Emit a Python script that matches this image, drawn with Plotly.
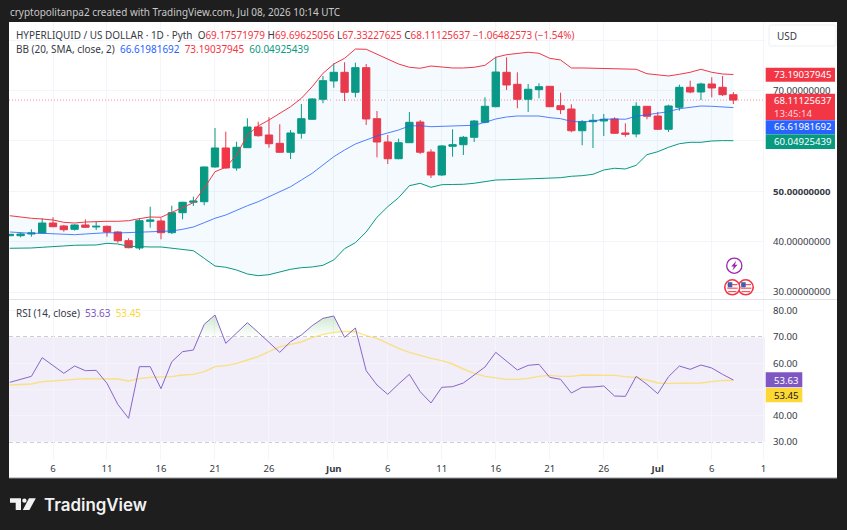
import numpy as np
import plotly.graph_objects as go

W, H = 847, 530

# Calendar: day number counted from 1 May, so 32 = 1 Jun and 62 = 1 Jul
days = list(range(2, 70))

opens = [41.18,41.18,41.52,41.72,43.70,43.11,42.45,43.31,42.91,43.05,41.92,40.19,38.74,44.04,44.10,41.78,45.75,47.82,47.93,54.83,58.60,54.63,58.66,62.77,61.18,59.53,57.75,61.52,64.30,68.27,
         71.91,73.63,69.66,74.55,64.42,59.79,56.47,59.65,63.76,57.80,53.24,58.94,59.25,60.72,63.70,66.80,73.63,71.25,68.27,70.18,70.85,67.00,66.34,62.03,63.82,63.96,64.36,61.58,61.38,66.88,
         64.95,62.31,66.68,70.65,69.72,71.31,70.65,69.17571979]
highs = [41.50,41.78,42.45,44.64,44.84,43.31,43.45,44.44,43.96,43.17,42.06,40.67,44.64,46.94,44.64,47.14,47.90,48.93,54.90,62.57,61.84,59.85,64.50,63.82,64.70,63.31,62.17,67.34,68.47,72.90,
         75.42,75.62,75.54,75.28,65.95,61.18,60.45,65.75,64.16,58.34,59.20,62.31,60.98,64.16,68.67,76.73,76.61,73.63,71.31,71.45,70.90,69.58,67.28,64.16,65.35,65.35,64.70,63.50,67.68,66.90,
         65.75,67.20,71.17,71.97,71.57,72.64,72.90,69.69625056]
lows = [41.10,40.86,40.98,41.66,42.85,41.98,42.18,42.71,42.31,40.98,39.79,38.68,38.34,42.77,40.47,41.52,44.44,47.08,47.22,54.70,54.49,54.09,58.60,60.84,58.66,57.61,56.41,60.45,64.16,67.48,
        70.57,67.93,68.67,63.17,56.75,55.42,56.36,59.60,57.41,52.64,53.04,56.87,57.21,59.79,63.50,66.68,70.12,66.48,65.75,68.47,66.70,65.35,61.72,59.14,58.60,60.98,61.44,60.84,60.72,64.30,
        62.17,61.78,66.01,69.46,68.13,68.67,68.93,67.33227625]
closes = [41.46,41.52,41.72,43.70,42.97,42.37,43.31,42.85,43.05,41.92,40.19,38.80,44.16,44.30,41.78,45.75,47.82,48.07,54.83,58.60,54.63,58.74,62.77,61.04,59.45,57.75,61.58,64.42,68.33,71.97,
          73.63,69.66,74.55,64.36,59.79,56.47,59.65,63.70,57.75,53.24,59.00,59.25,60.72,63.96,66.88,73.69,71.11,68.27,70.26,70.77,66.80,66.21,62.03,63.82,64.10,64.30,61.52,61.32,66.88,64.90,
          62.31,66.94,70.65,69.72,71.31,70.52,69.18,68.11125637]

bb_upper = [45.15,44.84,44.64,44.50,44.30,43.84,43.70,43.90,44.04,44.04,44.04,44.16,44.56,44.90,44.84,45.83,46.74,47.74,50.60,53.89,54.77,57.21,61.18,62.97,64.16,65.49,66.80,68.47,70.77,73.43,
            75.28,76.41,78.26,78.20,77.27,76.27,75.28,74.63,74.43,74.88,74.63,74.49,74.49,74.63,75.02,76.61,77.13,77.41,77.61,77.41,76.41,76.08,74.49,74.49,74.43,74.35,74.29,74.23,74.23,73.35,
            73.10,72.90,73.24,73.63,74.23,73.63,73.30,73.19037945]
bb_basis = [41.92,41.72,41.66,41.66,41.58,41.46,41.38,41.52,41.66,41.78,41.72,41.78,41.92,41.92,41.98,42.12,42.45,42.91,43.76,44.64,45.29,46.29,47.14,47.93,48.93,49.86,50.91,52.24,53.57,55.22,
            56.87,58.20,59.39,60.19,60.98,61.58,62.17,62.97,63.03,62.83,62.91,62.97,62.97,63.11,63.70,64.36,64.76,64.95,64.95,64.95,64.62,64.42,63.90,63.76,63.96,64.30,64.36,64.30,64.90,65.21,
            65.55,65.81,66.40,66.68,66.94,66.88,66.68,66.61981692]
bb_lower = [38.68,38.68,38.74,38.88,38.94,39.14,39.28,39.28,39.34,39.67,39.53,39.08,38.94,38.94,38.94,38.68,38.40,38.20,36.69,35.16,34.91,34.37,33.58,33.24,33.44,34.03,34.51,34.83,34.97,35.30,
            36.36,38.60,39.79,41.92,44.84,46.94,48.73,51.11,51.59,50.79,51.31,51.35,51.39,51.59,51.99,52.24,52.30,52.38,52.38,52.44,52.64,52.70,52.98,53.10,53.38,54.23,54.57,54.43,55.16,57.27,
            57.86,58.74,59.45,59.73,59.73,59.99,60.06,60.04925439]

rsi = [52.73,53.87,55.02,62.13,59.08,56.16,58.95,57.17,57.30,52.35,44.35,39.02,58.70,58.70,50.32,60.60,64.41,65.05,74.83,78.38,67.59,71.65,75.46,71.78,67.97,64.16,68.22,70.76,74.32,77.11,
       78.00,69.87,73.43,57.17,51.71,48.16,52.10,55.78,49.17,44.86,50.83,51.08,52.48,55.52,58.57,64.16,60.86,57.43,59.21,59.59,54.63,53.87,48.67,50.83,50.95,51.33,47.52,47.40,55.02,51.97,
       48.41,54.89,58.95,57.68,59.33,58.19,55.78,53.63]
rsi_ma = [51.71,51.97,52.10,52.98,53.37,53.62,53.87,54.13,54.13,54.00,54.00,53.24,54.13,54.63,54.63,54.89,55.52,55.78,56.79,58.70,59.08,59.97,61.24,62.51,64.41,66.32,67.21,68.10,69.75,71.02,
          71.78,72.16,72.03,70.51,69.49,67.59,65.68,64.16,62.89,61.87,60.98,59.71,57.81,56.16,55.02,54.51,53.87,53.87,54.25,55.02,55.40,55.02,55.02,55.52,55.52,55.52,55.40,54.89,54.51,53.62,
          52.48,52.35,52.35,52.35,52.48,52.98,53.49,53.45]

price_ticks = [30, 40, 50, 60, 70, 80]
price_labels = ["30.00000000", "40.00000000", "<b>50.00000000</b>", "", "70.00000000", ""]
rsi_ticks = [30, 40, 50, 60, 70, 80]
rsi_labels = ["30.00", "40.00", "", "60.00", "70.00", "80.00"]
rsi_levels = [30, 50, 70]
time_ticks = [6, 11, 16, 21, 26, 32, 37, 42, 47, 52, 57, 62, 67, 71.8]
time_labels = ["6", "11", "16", "21", "26", "<b>Jun</b>", "6", "11", "16", "21", "26", "<b>Jul</b>", "6", "1"]

UP, DOWN, BLUE = "#089981", "#f23645", "#2962ff"
PURPLE, YELLOW = "#7e57c2", "#fdd835"
GRID, TEXT = "#f3f5fa", "#363a45"
FONT = "Noto Sans, sans-serif"
AXIS_SIZE = 9.6
TEXT_SIZE = 9.95


def fx(px):
    return px / W


def fy(px):
    return 1 - px / H


def box(x0, y0, x1, y1, fill, line=None, width=0, layer="above"):
    return dict(type="rect", xref="paper", yref="paper", x0=fx(x0), x1=fx(x1), y0=fy(y0), y1=fy(y1),
                fillcolor=fill, line=dict(color=line or fill, width=width), layer=layer)


def blob(cx, cy, r, fill, line, width):
    return dict(type="circle", xref="paper", yref="paper", x0=fx(cx - r), x1=fx(cx + r),
                y0=fy(cy - r), y1=fy(cy + r), fillcolor=fill, line=dict(color=line, width=width))


def poly(points, fill, line=None, width=0):
    d = "M" + " L".join(f"{fx(a):.5f},{fy(b):.5f}" for a, b in points) + " Z"
    return dict(type="path", xref="paper", yref="paper", path=d, fillcolor=fill,
                line=dict(color=line or fill, width=width))


def label(x, y, text, size=TEXT_SIZE, color=TEXT, anchor="left", family=FONT, weight=None):
    font = dict(size=size, color=color, family=family)
    if weight:
        font["weight"] = weight
    return dict(xref="paper", yref="paper", x=fx(x), y=fy(y), text=text, showarrow=False,
                xanchor=anchor, yanchor="middle", font=font,
                borderpad=0, bgcolor="rgba(0,0,0,0)")


fig = go.Figure()

# Bollinger band fill and lines
fig.add_trace(go.Scatter(x=days, y=bb_lower, mode="lines", line=dict(color=UP, width=1), opacity=0.7,
                         xaxis="x", yaxis="y", showlegend=False))
fig.add_trace(go.Scatter(x=days, y=bb_upper, mode="lines", line=dict(color=DOWN, width=1),
                         fill="tonexty", fillcolor="rgba(33,150,243,0.05)",
                         xaxis="x", yaxis="y", showlegend=False))
fig.add_trace(go.Scatter(x=days, y=bb_basis, mode="lines", line=dict(color=BLUE, width=1), opacity=0.8,
                         xaxis="x", yaxis="y", showlegend=False))

# Daily candles
fig.add_trace(go.Candlestick(x=days, open=opens, high=highs, low=lows, close=closes,
                             increasing=dict(line=dict(color=UP, width=1), fillcolor=UP),
                             decreasing=dict(line=dict(color=DOWN, width=1), fillcolor=DOWN),
                             whiskerwidth=0, xaxis="x", yaxis="y", showlegend=False))

# Overbought shading: the RSI above its upper level, with the crossings added to the outline
level = rsi_levels[-1]
over_x, over_y = [], []
for i, (d, r) in enumerate(zip(days, rsi)):
    if i:
        r0 = rsi[i - 1]
        if (r0 - level) * (r - level) < 0:
            over_x.append(days[i - 1] + (level - r0) / (r - r0))
            over_y.append(level)
    over_x.append(d)
    over_y.append(max(r, level))
fig.add_trace(go.Scatter(x=over_x, y=[level] * len(over_x), mode="lines", line=dict(width=0),
                         xaxis="x2", yaxis="y2", showlegend=False))
fig.add_trace(go.Scatter(x=over_x, y=over_y, mode="lines", line=dict(width=0), fill="tonexty",
                         fillgradient=dict(type="vertical",
                                           colorscale=[[0, "rgba(76,175,80,0.0)"], [1, "rgba(76,175,80,0.28)"]]),
                         xaxis="x2", yaxis="y2", showlegend=False))

# RSI and its moving average
fig.add_trace(go.Scatter(x=days, y=rsi_ma, mode="lines", line=dict(color=YELLOW, width=1.4), opacity=0.6,
                         xaxis="x2", yaxis="y2", showlegend=False))
fig.add_trace(go.Scatter(x=days, y=rsi, mode="lines", line=dict(color=PURPLE, width=1), opacity=0.9,
                         xaxis="x2", yaxis="y2", showlegend=False))

shapes = [
    box(9, 22, 837, 478, "#ffffff", layer="below"),
    dict(type="rect", xref="x2 domain", yref="y2", x0=0, x1=1, y0=rsi_levels[0], y1=rsi_levels[-1],
         fillcolor="rgba(126,87,194,0.1)", line=dict(width=0), layer="below"),
    # Last price marker
    dict(type="line", xref="x domain", yref="y", x0=0, x1=1, y0=closes[-1], y1=closes[-1],
         line=dict(color=DOWN, width=1, dash="1px,2px"), opacity=0.55, layer="below"),
    # Pane separator and outer edge
    dict(type="line", xref="paper", yref="paper", x0=fx(9), x1=fx(837), y0=fy(299.5), y1=fy(299.5),
         line=dict(color="#e0e3eb", width=1)),
    dict(type="line", xref="paper", yref="paper", x0=fx(9), x1=fx(837), y0=fy(478), y1=fy(478),
         line=dict(color="#9598a1", width=1)),
    # Currency button
    dict(type="path", xref="paper", yref="paper", line=dict(color="#eceef3", width=1), fillcolor="#ffffff",
         path=f"M{fx(771)},{fy(25)} L{fx(834)},{fy(25)} Q{fx(836)},{fy(25)} {fx(836)},{fy(27)} "
              f"L{fx(836)},{fy(44)} Q{fx(836)},{fy(46)} {fx(834)},{fy(46)} L{fx(771)},{fy(46)} "
              f"Q{fx(769)},{fy(46)} {fx(769)},{fy(44)} L{fx(769)},{fy(27)} Q{fx(769)},{fy(25)} {fx(771)},{fy(25)} Z"),
    # Axis price tags
    box(765.7, 67.7, 835, 81.7, DOWN),
    box(765.7, 93.7, 835, 120, DOWN),
    box(765.7, 120.3, 835, 134, BLUE),
    box(765.7, 134.3, 835, 149, UP),
    box(765.7, 372.3, 802.3, 387.3, PURPLE),
    box(765.7, 388, 802.3, 402.3, YELLOW),
    # Event markers
    blob(734.3, 265.7, 7.6, "#ffffff", "#9c27b0", 1.3),
    poly([(736.3, 260.8), (731.2, 266.6), (733.9, 266.6), (732.4, 270.6), (737.6, 264.8), (734.9, 264.8)], "#9c27b0"),
    blob(745.7, 287.3, 7.5, "#ffffff", "#f23645", 1.6),
    box(741, 284, 751, 285.2, "#f7525f"), box(741, 287.6, 751.5, 288.8, "#f7525f"), box(741.5, 291, 750, 292.2, "#f7525f"),
    box(741.2, 282.2, 745.7, 287.3, "#3f5fb0"),
    blob(732.3, 287.3, 7.5, "#ffffff", "#f23645", 1.6),
    box(727.6, 284, 737.4, 285.2, "#f7525f"), box(727.2, 287.6, 737.6, 288.8, "#f7525f"), box(728.2, 291, 736.4, 292.2, "#f7525f"),
    box(727.8, 282.2, 732.3, 287.3, "#3f5fb0"),
    # Wordmark icon
    poly([(10, 498.3), (21, 498.3), (21, 510), (15.7, 510), (15.7, 502.7), (10, 502.7)], "#f2f2f2"),
    blob(24.4, 500.6, 2.2, "#f2f2f2", "#f2f2f2", 0),
    poly([(29, 498.3), (35.8, 498.3), (29.4, 510), (22.8, 510)], "#f2f2f2"),
]
for lv in rsi_levels:
    shapes.append(dict(type="line", xref="x2 domain", yref="y2", x0=0, x1=1, y0=lv, y1=lv,
                       line=dict(color="#787b86", width=1, dash="4px,3px"), opacity=0.75, layer="below"))

R, G, B = DOWN, UP, BLUE
annotations = [
    label(9, 11.5, "cryptopolitanpa2 created with TradingView.com, Jul 08, 2026 10:14 UTC", color="#c9c9c9"),
    label(15, 34.5,
          "HYPERLIQUID / US DOLLAR · 1D · Pyth  "
          f"O<span style='color:{R}'>69.17571979</span> H<span style='color:{R}'>69.69625056</span> "
          f"L<span style='color:{R}'>67.33227625</span> C<span style='color:{R}'>68.11125637</span> "
          f"<span style='color:{R}'>−1.06482573 (−1.54%)</span>"),
    label(15, 49,
          f"BB (20, SMA, close, 2)  <span style='color:{B}'>66.61981692</span>  "
          f"<span style='color:{R}'>73.19037945</span>  <span style='color:{G}'>60.04925439</span>"),
    label(15, 313,
          f"RSI (14, close)  <span style='color:{PURPLE}'>53.63</span>  "
          f"<span style='color:{YELLOW}'>53.45</span>"),
    label(776, 35.5, "USD"),
    label(772.7, 74.3, "73.19037945", size=AXIS_SIZE, color="#ffffff"),
    label(772.7, 100.3, "68.11125637", size=AXIS_SIZE, color="#ffffff"),
    label(772.7, 113.3, "13:45:14", size=AXIS_SIZE, color="#ffd9dc"),
    label(772.7, 126.6, "66.61981692", size=AXIS_SIZE, color="#ffffff"),
    label(772.7, 141.7, "60.04925439", size=AXIS_SIZE, color="#ffffff"),
    label(772.7, 380, "53.63", size=AXIS_SIZE, color="#ffffff"),
    label(772.7, 395.2, "53.45", size=AXIS_SIZE, color="#131722"),
    label(42.5, 504.5, "TradingView", size=16.9, color="#f2f2f2", family="Inter, sans-serif", weight=600),
]

x_range = [1.926, 71.93]
x_common = dict(range=x_range, tickmode="array", tickvals=time_ticks, showgrid=True, gridcolor=GRID,
                gridwidth=1, zeroline=False, showline=False, ticks="", fixedrange=True)
axis_font = dict(size=AXIS_SIZE, color=TEXT, family=FONT)

fig.update_layout(
    width=W, height=H, autosize=False,
    margin=dict(l=0, r=0, t=0, b=0),
    paper_bgcolor="#1e1e1e", plot_bgcolor="rgba(0,0,0,0)",
    showlegend=False, hovermode=False, boxgap=0.32, boxgroupgap=0,
    font=dict(family=FONT, size=TEXT_SIZE, color=TEXT),
    shapes=shapes, annotations=annotations,
    xaxis=dict(domain=[fx(9), fx(765)], anchor="y", showticklabels=False, rangeslider=dict(visible=False),
               **x_common),
    xaxis2=dict(domain=[fx(9), fx(765)], anchor="y2", ticktext=time_labels, showticklabels=True,
                tickfont=axis_font, ticklabelstandoff=1, **x_common),
    yaxis=dict(domain=[fy(299), fy(22)], anchor="x", side="right", range=[28.61, 83.62],
               tickmode="array", tickvals=price_ticks, ticktext=price_labels, showgrid=True, gridcolor=GRID,
               zeroline=False, showline=False, ticks="", ticklabelstandoff=7,
               tickfont=axis_font, fixedrange=True),
    yaxis2=dict(domain=[fy(460), fy(300)], anchor="x2", side="right", range=[23.14, 84.1],
                tickmode="array", tickvals=rsi_ticks, ticktext=rsi_labels, showgrid=True, gridcolor=GRID,
                zeroline=False, showline=False, ticks="", ticklabelstandoff=7,
                tickfont=axis_font, fixedrange=True),
)

fig.write_html("out.html", config=dict(displayModeBar=False))
